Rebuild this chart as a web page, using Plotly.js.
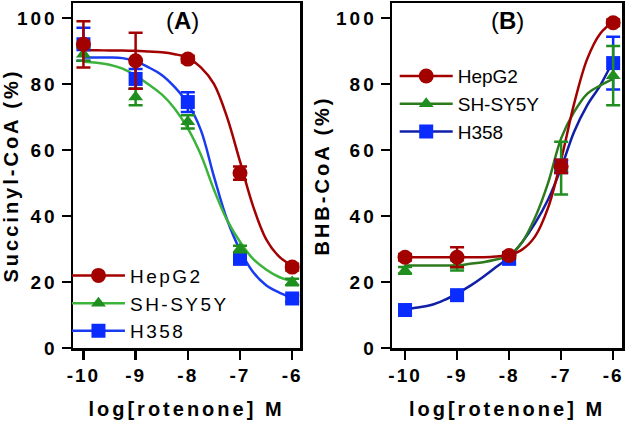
<!DOCTYPE html>
<html><head><meta charset="utf-8">
<script src="https://cdn.plot.ly/plotly-3.0.1.min.js"></script>
<style>
html,body{margin:0;padding:0;background:#fff;}
#chart{width:625px;height:424px;}
.xtick text,.x2tick text{letter-spacing:2px;}
.ytick text,.y2tick text{letter-spacing:3px;}
.g-xtitle text,.g-x2title text,.g-ytitle text,.g-y2title text{letter-spacing:3px;}
.legendtext{letter-spacing:2.5px;}
</style></head><body><div id="chart"></div>
<script>
// ---- data ----
const logDose = [-10, -9, -8, -7, -6];
const tickVals = [-10, -9, -8, -7, -6];
const tickText = ["-10", "-9", "-8", "-7", "-6"];
const yTicks = [0, 20, 40, 60, 80, 100];
const seriesNames = ["HepG2", "SH-SY5Y", "H358"];

// Panel A: Succinyl-CoA (%)
const hepA = [92, 87, 87.5, 53, 24.5];
const hepAErr = [7, 8.5, 1, 2, 1];
const shA = [89, 76, 68.5, 30, 20];
const shAErr = [2, 2.5, 2, 1, 1];
const h358A = [92, 81.5, 74.5, 27, 15];
const h358AErr = [5, 3, 3, 1.5, 1];

// Panel B: BHB-CoA (%)
const hepB = [27.5, 27.5, 28, 55, 98.5];
const hepBErr = [1, 3, 1, 2, 1];
const shB = [23.5, 25, 28, 54.5, 82.5];
const shBErr = [1, 1.5, 1, 8, 9];
const h358B = [11.5, 16, 27, 55, 86.3];
const h358BErr = [1, 1, 1.5, 2, 8];

// fitted curves
const curveX = [-10, -9.75, -9.5, -9.25, -9, -8.75, -8.5, -8.25, -8, -7.75, -7.5, -7.25, -7, -6.75, -6.5, -6.25, -6];
const hepAFit = [90.2, 90.2, 90.1, 90.1, 90, 89.8, 89.6, 89, 87.9, 85, 80, 70, 56.5, 43, 33, 27.7, 25];
const shAFit = [86.7, 86.4, 85.8, 84.6, 82.5, 79.8, 76.8, 72.5, 66.5, 58.5, 48, 38.8, 32.2, 27, 23.8, 21.5, 20.3];
const h358AFit = [88, 88, 88, 87.8, 86.8, 85, 82.7, 79, 74, 66, 52, 39, 29.7, 23, 19, 16.8, 15.2];
const hepBFit = [27.5, 27.5, 27.5, 27.5, 27.5, 27.5, 27.5, 27.7, 28.2, 29.8, 33.8, 42.5, 57, 74, 87.5, 95.2, 98.8];
const shBFit = [25, 25, 25, 25, 25, 25.5, 26, 26.8, 28, 32, 39.5, 50, 63.5, 71.5, 77, 79.5, 81.5];
const h358BFit = [11.8, 12.3, 13, 14.5, 16.5, 18.8, 21.5, 24.5, 27.5, 32, 37.8, 45, 54.5, 65.5, 73.5, 79.5, 87];

// ---- styling ----
const FONT = "Liberation Sans, Arial, Helvetica, sans-serif";
const RED = "#a30000", GREEN_M = "#1f8f1f", BLUE_M = "#0a2cff";
const GREEN_LA = "#3cb43c", BLUE_LA = "#1a3cf0";
const GREEN_LB = "#2c7a1c", BLUE_LB = "#0f1fa8";
const symbols = ["circle", "triangle-up", "square"];
const msizes = [15, 13, 14];

function panel(xa, ya, legendId, ys, errs, fits, lineCols) {
  const markCols = [RED, GREEN_M, BLUE_M];
  const tr = [];
  [2, 1, 0].forEach(i => tr.push({
    x: curveX, y: fits[i], xaxis: xa, yaxis: ya, mode: "lines",
    line: {color: lineCols[i], width: 2.5, shape: "spline"},
    showlegend: false, hoverinfo: "skip"
  }));
  [2, 1, 0].forEach(i => tr.push({
    x: logDose, y: ys[i], xaxis: xa, yaxis: ya, mode: "markers",
    marker: {symbol: symbols[i], size: msizes[i], color: markCols[i]},
    error_y: {type: "data", array: errs[i], color: markCols[i], thickness: 2.5, width: 7},
    showlegend: false
  }));
  [0, 1, 2].forEach(i => tr.push({
    x: [null], y: [null], xaxis: xa, yaxis: ya, mode: "lines+markers",
    name: seriesNames[i], legend: legendId,
    line: {color: lineCols[i], width: 2.5},
    marker: {symbol: symbols[i], size: msizes[i], color: markCols[i]}
  }));
  return tr;
}

const traces = [].concat(
  panel("x", "y", "legend", [hepA, shA, h358A], [hepAErr, shAErr, h358AErr], [hepAFit, shAFit, h358AFit], [RED, GREEN_LA, BLUE_LA]),
  panel("x2", "y2", "legend2", [hepB, shB, h358B], [hepBErr, shBErr, h358BErr], [hepBFit, shBFit, h358BFit], [RED, GREEN_LB, BLUE_LB])
);

const tickFont = {family: FONT, size: 19, weight: "bold", color: "#000"};
const titleFont = {family: FONT, size: 20, weight: "bold", color: "#000"};
function xax(domain, range, anchor) {
  return {domain, range, anchor, tickvals: tickVals, ticktext: tickText,
    showline: true, linewidth: 2.5, linecolor: "#000", mirror: true,
    ticks: "outside", ticklen: 9, tickwidth: 2.5, tickcolor: "#000",
    showgrid: false, zeroline: false, tickfont: tickFont, fixedrange: true,
    title: {text: "log[rotenone] M", font: titleFont, standoff: 17}};
}
function yax(anchor, title, standoff) {
  return {domain: [0, 1], range: [0, 104.5], anchor, tickvals: yTicks,
    showline: true, linewidth: 2.5, linecolor: "#000", mirror: true,
    ticks: "outside", ticklen: 9, tickwidth: 2.5, tickcolor: "#000",
    showgrid: false, zeroline: false, tickfont: tickFont, fixedrange: true,
    title: {text: title, font: titleFont, standoff: standoff}};
}
const legFont = {family: FONT, size: 19, color: "#000"};
const layout = {
  width: 625, height: 424,
  margin: {l: 73, r: 3, t: 3, b: 76},
  paper_bgcolor: "#fff", plot_bgcolor: "#fff",
  font: {family: FONT, color: "#000"},
  xaxis: xax([0, 0.4135], [-10.2, -5.85], "y"),
  yaxis: yax("x", "Succinyl-CoA (%)", 9),
  xaxis2: xax([0.5811, 1], [-10.25, -5.83], "y2"),
  yaxis2: yax("x2", "BHB-CoA (%)", 1),
  legend: {x: -0.011, y: 0.265, xanchor: "left", yanchor: "top", bgcolor: "rgba(0,0,0,0)",
    font: legFont, itemwidth: 53, tracegroupgap: 0},
  legend2: {x: 0.586, y: 0.843, xanchor: "left", yanchor: "top", bgcolor: "rgba(0,0,0,0)",
    font: legFont, itemwidth: 53, tracegroupgap: 0},
  annotations: [
    {text: "(<b>A</b>)", xref: "paper", yref: "paper", x: 0.2, y: 0.95,
      xanchor: "center", yanchor: "middle", showarrow: false, font: {family: FONT, size: 24, color: "#000"}},
    {text: "(<b>B</b>)", xref: "paper", yref: "paper", x: 0.7906, y: 0.95,
      xanchor: "center", yanchor: "middle", showarrow: false, font: {family: FONT, size: 24, color: "#000"}}
  ],
  showlegend: true
};
Plotly.newPlot("chart", traces, layout, {staticPlot: true, displayModeBar: false});
</script></body></html>
